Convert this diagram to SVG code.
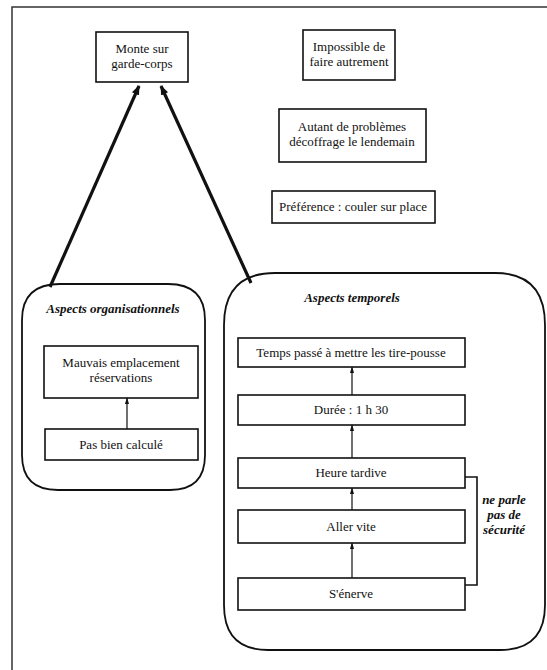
<svg xmlns="http://www.w3.org/2000/svg" width="547" height="670" viewBox="0 0 547 670">
<style>
text{font-family:'Liberation Serif','Times New Roman',serif;font-size:13px;fill:#111;text-anchor:middle}
.it{font-style:italic;font-weight:bold}
.box{fill:#fff;stroke:#111;stroke-width:1.6}
.cont{fill:none;stroke:#111;stroke-width:1.8}
.thick{stroke:#111;stroke-width:3.2;fill:none}
.thin{stroke:#111;stroke-width:1.2;fill:none}
</style>
<defs>
<marker id="ah" viewBox="0 0 10 10" refX="9" refY="5" markerWidth="3" markerHeight="3" orient="auto"><path d="M0,1 L10,5 L0,9 z" fill="#111"/></marker>
<marker id="as" viewBox="0 0 10 10" refX="9" refY="5" markerWidth="6" markerHeight="6" orient="auto"><path d="M0,2 L10,5 L0,8 z" fill="#111"/></marker>
</defs>
<rect width="547" height="670" fill="#fff"/>
<g id="frame"><path d="M12,670 L12,7 L547,7" fill="none" stroke="#333" stroke-width="1.5"/></g>

<g id="n-monte"><rect class="box" x="96" y="32" width="92" height="50"/><text x="142" y="53">Monte sur</text><text x="142" y="68">garde-corps</text></g>
<g id="n-impossible"><rect class="box" x="303" y="30" width="92" height="50"/><text x="349" y="51">Impossible de</text><text x="349" y="66">faire autrement</text></g>
<g id="n-autant"><rect class="box" x="279" y="109" width="147" height="53"/><text x="352" y="131">Autant de problèmes</text><text x="352" y="146">décoffrage le lendemain</text></g>
<g id="n-pref"><rect class="box" x="272" y="191" width="163" height="32"/><text x="353" y="211">Préférence : couler sur place</text></g>

<g id="g-org"><path class="cont" d="M60,284 L168,284 Q205,284 205,320 L205,455 Q205,490 170,490 L58,490 Q22,490 22,455 L22,320 Q22,284 60,284 Z"/><text class="it" x="113" y="313">Aspects organisationnels</text></g>
<g id="n-mauvais"><rect class="box" x="44" y="346" width="154" height="52"/><text x="121" y="367">Mauvais emplacement</text><text x="121" y="382">réservations</text></g>
<g id="n-pasbien"><rect class="box" x="45" y="429" width="153" height="31"/><text x="121" y="449">Pas bien calculé</text></g>

<g id="g-temp"><path class="cont" d="M275,273 L495,273 Q545,273 545,325 L545,605 Q545,650 500,650 L268,650 Q224,650 224,605 L224,325 Q224,273 275,273 Z"/><text class="it" x="352" y="302">Aspects temporels</text></g>
<g id="n-temps"><rect class="box" x="238" y="338" width="227" height="29"/><text x="351" y="357">Temps passé à mettre les tire-pousse</text></g>
<g id="n-duree"><rect class="box" x="238" y="395" width="227" height="30"/><text x="351" y="414">Durée : 1 h 30</text></g>
<g id="n-heure"><rect class="box" x="238" y="458" width="227" height="30"/><text x="351" y="477">Heure tardive</text></g>
<g id="n-aller"><rect class="box" x="238" y="510" width="227" height="33"/><text x="351" y="531">Aller vite</text></g>
<g id="n-enerve"><rect class="box" x="238" y="578" width="227" height="32"/><text x="351" y="598">S'énerve</text></g>
<g id="n-note"><text class="it" x="504" y="504">ne parle</text><text class="it" x="504" y="519">pas de</text><text class="it" x="504" y="534">sécurité</text></g>

<g id="connectors">
<line class="thick" x1="50" y1="287" x2="139" y2="86" marker-end="url(#ah)"/>
<line class="thick" x1="251" y1="283" x2="161" y2="86" marker-end="url(#ah)"/>
<line class="thin" x1="127" y1="429" x2="127" y2="398" marker-end="url(#as)"/>
<line class="thin" x1="352" y1="395" x2="352" y2="367" marker-end="url(#as)"/>
<line class="thin" x1="352" y1="458" x2="352" y2="425" marker-end="url(#as)"/>
<line class="thin" x1="352" y1="510" x2="352" y2="488" marker-end="url(#as)"/>
<line class="thin" x1="352" y1="578" x2="352" y2="543" marker-end="url(#as)"/>
<path d="M465,477 L477,477 L477,585 L465,585" fill="none" stroke="#111" stroke-width="1.6"/>
</g>
</svg>
